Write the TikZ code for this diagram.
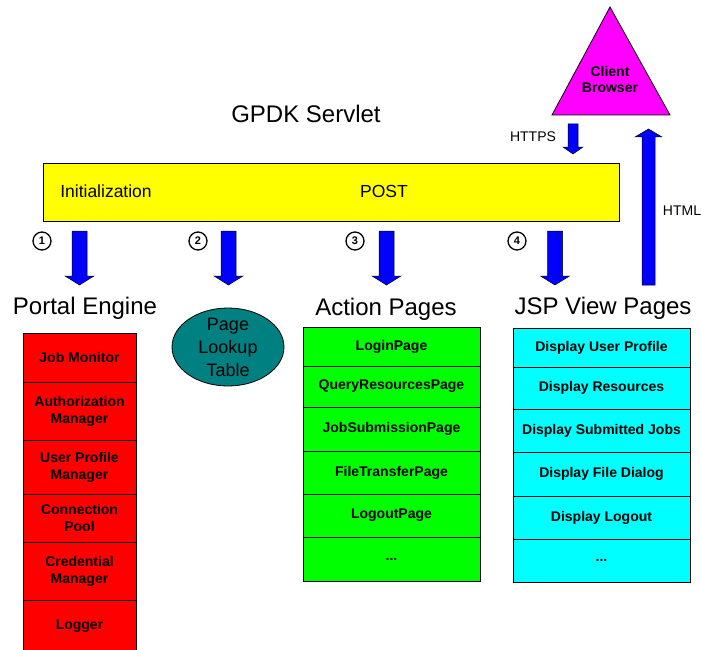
\documentclass[tikz,border=0pt]{standalone}
\usepackage{fontspec}
\setmainfont{Liberation Sans}
\usetikzlibrary{shapes.geometric}
\definecolor{tealfill}{RGB}{0,128,128}
\definecolor{cyanfill}{RGB}{0,255,255}
\definecolor{magentafill}{RGB}{255,0,255}
\definecolor{redfill}{RGB}{255,0,0}
\definecolor{greenfill}{RGB}{0,255,0}
\definecolor{yellowfill}{RGB}{255,255,0}
\definecolor{bluefill}{RGB}{0,0,255}
\tikzset{
  cell/.style={draw=black, line width=0.8pt, rectangle, inner sep=0pt, align=center,
    font=\fontsize{14}{17}\selectfont\bfseries},
  title/.style={font=\fontsize{24}{28}\selectfont, inner sep=0pt},
  small/.style={font=\fontsize{14}{17}\selectfont, inner sep=0pt},
  blk/.style={fill=bluefill, draw=black, line width=0.5pt},
  num/.style={circle, draw=black, line width=1.3pt, minimum size=18pt, inner sep=0pt,
    font=\fontsize{11}{12}\selectfont\bfseries}
}
\begin{document}
\begin{tikzpicture}[x=1pt,y=-1pt]
\useasboundingbox (0,0) rectangle (701,650);
\clip (0,0) rectangle (701,650);

% title
\node[title] (gpdk) at (306,114) {GPDK Servlet};

% yellow bar
\node[draw=black, line width=0.8pt, fill=yellowfill, minimum width=576, minimum height=58, inner sep=0pt] (bar) at (331,192) {};
\node[font=\fontsize{17.5}{20}\selectfont, inner sep=0pt] (init) at (106,191) {Initialization};
\node[font=\fontsize{17.5}{20}\selectfont, inner sep=0pt] (post) at (384,191) {POST};

% client browser triangle
\draw[fill=magentafill, draw=black, line width=0.8pt] (610,7) -- (670,115) -- (552,115) -- cycle;
\node[font=\fontsize{14}{17}\selectfont\bfseries, align=center, inner sep=0pt] (client) at (610,79) {Client\\[-1pt]Browser};

% HTTPS arrow
\draw[blk] (568,124) -- (578,124) -- (578,147) -- (583,147) -- (573,154) -- (563,147) -- (568,147) -- cycle;
\node[small] (https) at (533,137) {HTTPS};

% HTML arrow
\draw[blk] (642,285) -- (655,285) -- (655,137) -- (662,137) -- (648.5,129) -- (635,137) -- (642,137) -- cycle;
\node[small] (html) at (682,211) {HTML};

% down arrows
\foreach \cx in {79.5,228.5,386.5,555}{
  \draw[blk] (\cx-7.5,231) -- (\cx+7.5,231) -- (\cx+7.5,276) -- (\cx+14.5,276) -- (\cx,285) -- (\cx-14.5,276) -- (\cx-7.5,276) -- cycle;
}

% circled numbers
\node[num] (n1) at (42,241) {1};
\node[num] (n2) at (198,241) {2};
\node[num] (n3) at (355,241) {3};
\node[num] (n4) at (517,241) {4};

% section titles
\node[title] (pe) at (85,308) {Portal Engine};
\node[title] (ap) at (386,309) {Action Pages};
\node[title] (jsp) at (603,308) {JSP View Pages};

% page lookup table
\node[ellipse, draw=black, line width=0.8pt, fill=tealfill, minimum width=112, minimum height=78, inner sep=0pt] (plt) at (228,347) {};
\node[font=\fontsize{18}{23}\selectfont, align=center, inner sep=0pt] (plttext) at (228,347) {Page\\Lookup\\Table};

% red column
\node[cell, fill=redfill, minimum width=113, minimum height=49] (r1) at (79.5,357.5) {Job Monitor};
\node[cell, fill=redfill, minimum width=113, minimum height=58] (r2) at (79.5,411) {Authorization\\Manager};
\node[cell, fill=redfill, minimum width=113, minimum height=54] (r3) at (79.5,467) {User Profile\\Manager};
\node[cell, fill=redfill, minimum width=113, minimum height=48] (r4) at (79.5,518) {Connection\\Pool};
\node[cell, fill=redfill, minimum width=113, minimum height=58] (r5) at (79.5,571) {Credential\\Manager};
\node[cell, fill=redfill, minimum width=113, minimum height=60] (r6) at (79.5,630) {};
\node[font=\fontsize{14}{17}\selectfont\bfseries, inner sep=0pt] (r6t) at (79.5,626) {Logger};

% green column
\node[cell, fill=greenfill, minimum width=177, minimum height=39] (g1) at (391.5,346.5) {LoginPage};
\node[cell, fill=greenfill, minimum width=177, minimum height=41] (g2) at (391.5,386.5) {QueryResourcesPage};
\node[cell, fill=greenfill, minimum width=177, minimum height=44] (g3) at (391.5,429) {JobSubmissionPage};
\node[cell, fill=greenfill, minimum width=177, minimum height=43] (g4) at (391.5,472.5) {FileTransferPage};
\node[cell, fill=greenfill, minimum width=177, minimum height=43] (g5) at (391.5,515.5) {LogoutPage};
\node[cell, fill=greenfill, minimum width=177, minimum height=44] (g6) at (391.5,559) {...};

% cyan column
\node[cell, fill=cyanfill, minimum width=177, minimum height=39] (c1) at (601.5,347.5) {Display User Profile};
\node[cell, fill=cyanfill, minimum width=177, minimum height=42] (c2) at (601.5,388) {Display Resources};
\node[cell, fill=cyanfill, minimum width=177, minimum height=43] (c3) at (601.5,430.5) {Display Submitted Jobs};
\node[cell, fill=cyanfill, minimum width=177, minimum height=44] (c4) at (601.5,474) {Display File Dialog};
\node[cell, fill=cyanfill, minimum width=177, minimum height=43] (c5) at (601.5,517.5) {Display Logout};
\node[cell, fill=cyanfill, minimum width=177, minimum height=43] (c6) at (601.5,560.5) {...};
\end{tikzpicture}
\end{document}
